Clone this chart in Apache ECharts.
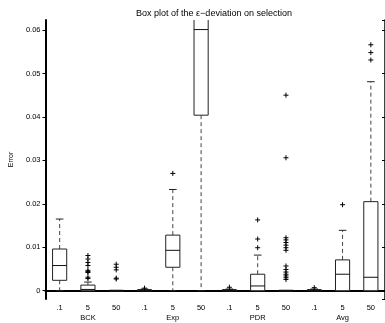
<!DOCTYPE html>
<html>
<head>
<meta charset="utf-8">
<script src="https://cdn.jsdelivr.net/npm/echarts@6/dist/echarts.min.js"></script>
<style>
  html, body { margin: 0; padding: 0; background: #fff; }
  #chart { width: 385px; height: 323px; }
</style>
</head>
<body>
<div id="chart"></div>
<script>
// categories along x (setting per method), group names under the middle one
const categories = [".1", "5", "50", ".1", "5", "50", ".1", "5", "50", ".1", "5", "50"];
const groups = ["BCK", "Exp", "PDR", "Avg"];

// box statistics per category
const whiskerLow  = [0, 0, 0, 0, 0, 0, 0, 0, 0, 0, 0, 0];
const q1          = [0.0024, 0, 0, 0, 0.0054, 0.0404, 0, 0, 0, 0, 0, 0];
const median      = [0.0058, 0.0003, 0, 0.0001, 0.0093, 0.0601, 0.0001, 0.0011, 0, 0.0001, 0.0038, 0.0031];
const q3          = [0.0096, 0.0013, 0, 0.0002, 0.0128, 0.0700, 0.0002, 0.0038, 0, 0.0002, 0.0071, 0.0205];
const whiskerHigh = [0.0165, 0.0020, 0, 0.0004, 0.0233, 0.0900, 0.0004, 0.0082, 0, 0.0004, 0.0139, 0.0481];

// outliers: [category index, value]
const outliers = [
    [1, 0.0081], [1, 0.0073], [1, 0.0065], [1, 0.0058], [1, 0.0047], [1, 0.0044], [1, 0.0042], [1, 0.0031], [1, 0.0028],
    [2, 0.0061], [2, 0.0054], [2, 0.0048], [2, 0.0029], [2, 0.0027],
    [3, 0.0006],
    [4, 0.0270],
    [6, 0.0008],
    [7, 0.0163], [7, 0.0119], [7, 0.0099],
    [8, 0.0450], [8, 0.0306], [8, 0.0122], [8, 0.0117], [8, 0.0111], [8, 0.0105], [8, 0.0099], [8, 0.0093],
    [8, 0.0057], [8, 0.0049], [8, 0.0043], [8, 0.0038], [8, 0.0034], [8, 0.0030], [8, 0.0026],
    [9, 0.0007],
    [10, 0.0198],
    [11, 0.0566], [11, 0.0548], [11, 0.0531],
];

const font = "'Liberation Sans', Arial, Helvetica, sans-serif";
const boxData = categories.map((c, i) => [i, whiskerLow[i], q1[i], median[i], q3[i], whiskerHigh[i]]);

const chart = echarts.init(document.getElementById("chart"));

// matlab-like box: solid box + median, dashed whiskers, solid caps
function renderBox(params, api) {
    const i = api.value(0);
    const band = api.size([1, 0])[0];
    const bw = band * 0.5;
    const cw = band * 0.27;
    const cx = api.coord([i, 0])[0];
    const yLow = api.coord([i, api.value(1)])[1];
    const yQ1 = api.coord([i, api.value(2)])[1];
    const yMed = api.coord([i, api.value(3)])[1];
    const yQ3 = api.coord([i, api.value(4)])[1];
    const yHigh = api.coord([i, api.value(5)])[1];
    const dash = { stroke: "#444", lineWidth: 1, lineDash: [4, 3] };
    const solid = { stroke: "#222", lineWidth: 1 };
    // flat boxes (all zero) look like a heavy bar in the original
    const medWidth = yQ1 - yQ3 < 1 ? 2 : 1;
    return {
        type: "group",
        children: [
            { type: "line", shape: { x1: cx, y1: yQ3, x2: cx, y2: yHigh }, style: dash },
            { type: "line", shape: { x1: cx, y1: yQ1, x2: cx, y2: yLow }, style: dash },
            { type: "line", shape: { x1: cx - cw / 2, y1: yHigh, x2: cx + cw / 2, y2: yHigh }, style: solid },
            { type: "line", shape: { x1: cx - cw / 2, y1: yLow, x2: cx + cw / 2, y2: yLow }, style: solid },
            { type: "rect", shape: { x: cx - bw / 2, y: yQ3, width: bw, height: yQ1 - yQ3 },
              style: { fill: "#fff", stroke: "#222", lineWidth: 1 } },
            { type: "line", shape: { x1: cx - bw / 2, y1: yMed, x2: cx + bw / 2, y2: yMed },
              style: { stroke: "#111", lineWidth: medWidth } },
        ],
    };
}

const option = {
    animation: false,
    backgroundColor: "#fff",
    textStyle: { fontFamily: font },
    title: {
        text: "Box plot of the \u03b5\u2212deviation on selection",
        left: 209,
        top: 4,
        textAlign: "center",
        textStyle: { fontSize: 9, fontWeight: "normal", color: "#000", fontFamily: font },
    },
    grid: { left: 32, top: 20, width: 355, bottom: 24 },
    xAxis: [
        {
            type: "category",
            data: categories,
            position: "bottom",
            axisLine: { lineStyle: { color: "#000", width: 2 } },
            axisTick: { inside: true, length: 3, alignWithLabel: true, lineStyle: { color: "#000" } },
            axisLabel: {
                color: "#000",
                fontSize: 7.5,
                margin: 4,
                lineHeight: 10,
                interval: 0,
                // group name under the middle entry of each triple
                formatter: (v, i) => (i % 3 === 1 ? v + "\n" + groups[(i - 1) / 3] : v),
            },
        },
        {
            type: "category",
            data: categories,
            position: "top",
            axisLine: { lineStyle: { color: "#000", width: 1.5 } },
            axisTick: { inside: true, length: 3, alignWithLabel: true, lineStyle: { color: "#000" } },
            axisLabel: { show: false },
        },
    ],
    yAxis: [
        {
            type: "value",
            min: -0.0019,
            max: 0.0623,
            splitNumber: 6,
            name: "Error",
            nameLocation: "middle",
            nameGap: 24,
            nameTextStyle: { fontSize: 7, color: "#000" },
            axisLine: { show: true, lineStyle: { color: "#000", width: 2 } },
            axisTick: { show: true, length: 3, lineStyle: { color: "#000" } },
            axisLabel: { color: "#000", fontSize: 7.5, margin: 5, showMinLabel: false, showMaxLabel: false },
            splitLine: { show: false },
        },
        {
            type: "value",
            position: "right",
            min: -0.0019,
            max: 0.0623,
            splitNumber: 6,
            axisLine: { show: true, lineStyle: { color: "#000", width: 1.5 } },
            axisTick: { show: true, inside: true, length: 3, lineStyle: { color: "#000" } },
            axisLabel: { show: false },
            splitLine: { show: false },
        },
    ],
    series: [
        {
            type: "custom",
            renderItem: renderBox,
            data: boxData,
            encode: { x: 0, y: [1, 2, 3, 4, 5] },
            clip: true,
            z: 2,
        },
        {
            type: "scatter",
            data: outliers,
            symbol: "path://M0 5L10 5M5 0L5 10",
            symbolSize: 5,
            itemStyle: { color: "transparent", borderColor: "#000", borderWidth: 1, opacity: 1 },
            z: 3,
        },
    ],
};

chart.setOption(option);
</script>
</body>
</html>
